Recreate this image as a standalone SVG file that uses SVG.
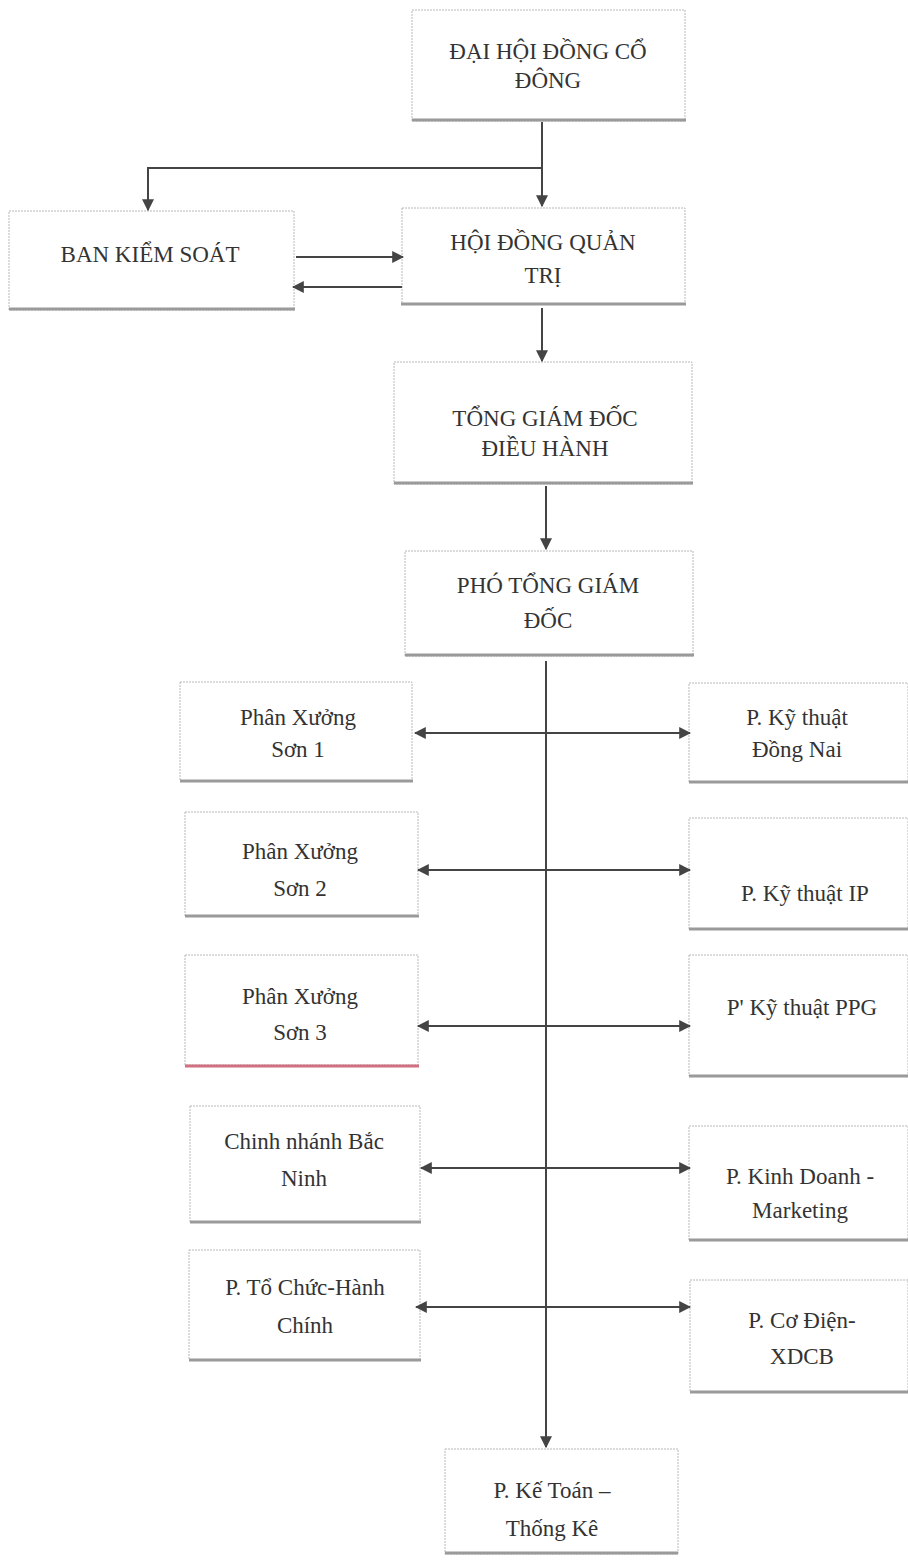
<svg xmlns="http://www.w3.org/2000/svg" width="908" height="1561" viewBox="0 0 908 1561">
<style>
.box{fill:#fff;stroke:#b8b8b8;stroke-width:1;stroke-dasharray:2 1}
.sh{stroke:#9a9a9a;stroke-width:3}
.t{font-family:"Liberation Serif","Times New Roman",serif;font-size:23px;fill:#333;text-anchor:middle}
.c{stroke:#444;stroke-width:2;fill:none}
</style>
<defs>
<marker id="ah" viewBox="0 0 10 10" refX="9" refY="5" markerWidth="6" markerHeight="6" orient="auto-start-reverse" markerUnits="strokeWidth">
<path d="M0,0 L10,5 L0,10 z" fill="#444"/>
</marker>
</defs>
<rect width="908" height="1561" fill="#fff"/>

<g id="dhdcd"><rect class="box" x="412" y="10" width="273" height="111"/><line class="sh" x1="412" y1="120" x2="686" y2="120"/><text class="t" x="548" y="59">ĐẠI HỘI ĐỒNG CỔ</text><text class="t" x="548" y="88">ĐÔNG</text></g>

<g id="bks"><rect class="box" x="9" y="211" width="285" height="99"/><line class="sh" x1="9" y1="309" x2="295" y2="309"/><text class="t" x="150" y="262">BAN KIỂM SOÁT</text></g>

<g id="hdqt"><rect class="box" x="402" y="208" width="283" height="96"/><line class="sh" x1="401" y1="304" x2="686" y2="304"/><text class="t" x="543" y="250">HỘI ĐỒNG QUẢN</text><text class="t" x="543" y="283">TRỊ</text></g>

<g id="tgd"><rect class="box" x="394" y="362" width="298" height="122"/><line class="sh" x1="394" y1="483" x2="693" y2="483"/><text class="t" x="545" y="426">TỔNG GIÁM ĐỐC</text><text class="t" x="545" y="456">ĐIỀU HÀNH</text></g>

<g id="ptgd"><rect class="box" x="405" y="551" width="288" height="105"/><line class="sh" x1="405" y1="655" x2="694" y2="655"/><text class="t" x="548" y="593">PHÓ TỔNG GIÁM</text><text class="t" x="548" y="628">ĐỐC</text></g>

<g id="px1"><rect class="box" x="180" y="682" width="232" height="99"/><line class="sh" x1="180" y1="781" x2="413" y2="781"/><text class="t" x="298" y="725">Phân Xưởng</text><text class="t" x="298" y="757">Sơn 1</text></g>

<g id="ktdn"><rect class="box" x="689" y="683" width="219" height="99"/><line class="sh" x1="689" y1="782" x2="908" y2="782"/><text class="t" x="797" y="725">P. Kỹ thuật</text><text class="t" x="797" y="757">Đồng Nai</text></g>

<g id="px2"><rect class="box" x="185" y="812" width="233" height="104"/><line class="sh" x1="185" y1="916" x2="419" y2="916"/><text class="t" x="300" y="859">Phân Xưởng</text><text class="t" x="300" y="896">Sơn 2</text></g>

<g id="ktip"><rect class="box" x="689" y="818" width="219" height="111"/><line class="sh" x1="689" y1="929" x2="908" y2="929"/><text class="t" x="805" y="901">P. Kỹ thuật IP</text></g>

<g id="px3"><rect class="box" x="185" y="955" width="233" height="110"/><line x1="185" y1="1066" x2="419" y2="1066" stroke="#d07080" stroke-width="3"/><text class="t" x="300" y="1004">Phân Xưởng</text><text class="t" x="300" y="1040">Sơn 3</text></g>

<g id="ktppg"><rect class="box" x="689" y="955" width="219" height="121"/><line class="sh" x1="689" y1="1076" x2="908" y2="1076"/><text class="t" x="802" y="1015">P' Kỹ thuật PPG</text></g>

<g id="cnbn"><rect class="box" x="190" y="1106" width="230" height="116"/><line class="sh" x1="190" y1="1222" x2="421" y2="1222"/><text class="t" x="304" y="1149">Chinh nhánh Bắc</text><text class="t" x="304" y="1186">Ninh</text></g>

<g id="kdmk"><rect class="box" x="689" y="1126" width="219" height="114"/><line class="sh" x1="689" y1="1240" x2="908" y2="1240"/><text class="t" x="800" y="1184">P. Kinh Doanh -</text><text class="t" x="800" y="1218">Marketing</text></g>

<g id="tchc"><rect class="box" x="189" y="1250" width="231" height="110"/><line class="sh" x1="189" y1="1360" x2="421" y2="1360"/><text class="t" x="305" y="1295">P. Tổ Chức-Hành</text><text class="t" x="305" y="1333">Chính</text></g>

<g id="cdxdcb"><rect class="box" x="690" y="1280" width="218" height="112"/><line class="sh" x1="690" y1="1392" x2="908" y2="1392"/><text class="t" x="802" y="1328">P. Cơ Điện-</text><text class="t" x="802" y="1364">XDCB</text></g>

<g id="ktk"><rect class="box" x="445" y="1449" width="233" height="105"/><line class="sh" x1="445" y1="1553" x2="678" y2="1553"/><text class="t" x="552" y="1498">P. Kế Toán –</text><text class="t" x="552" y="1536">Thống Kê</text></g>

<g id="connectors">
<path class="c" d="M542,122 V206" marker-end="url(#ah)"/>
<path class="c" d="M542,168 H148 V210" marker-end="url(#ah)"/>
<path class="c" d="M296,257 H403" marker-end="url(#ah)"/>
<path class="c" d="M402,287 H293" marker-end="url(#ah)"/>
<path class="c" d="M542,308 V361" marker-end="url(#ah)"/>
<path class="c" d="M546,486 V549" marker-end="url(#ah)"/>
<path class="c" d="M546,661 V1447" marker-end="url(#ah)"/>
<path class="c" d="M415,733 H690" marker-start="url(#ah)" marker-end="url(#ah)"/>
<path class="c" d="M418,870 H690" marker-start="url(#ah)" marker-end="url(#ah)"/>
<path class="c" d="M418,1026 H690" marker-start="url(#ah)" marker-end="url(#ah)"/>
<path class="c" d="M421,1168 H690" marker-start="url(#ah)" marker-end="url(#ah)"/>
<path class="c" d="M416,1307 H690" marker-start="url(#ah)" marker-end="url(#ah)"/>
</g>
</svg>
